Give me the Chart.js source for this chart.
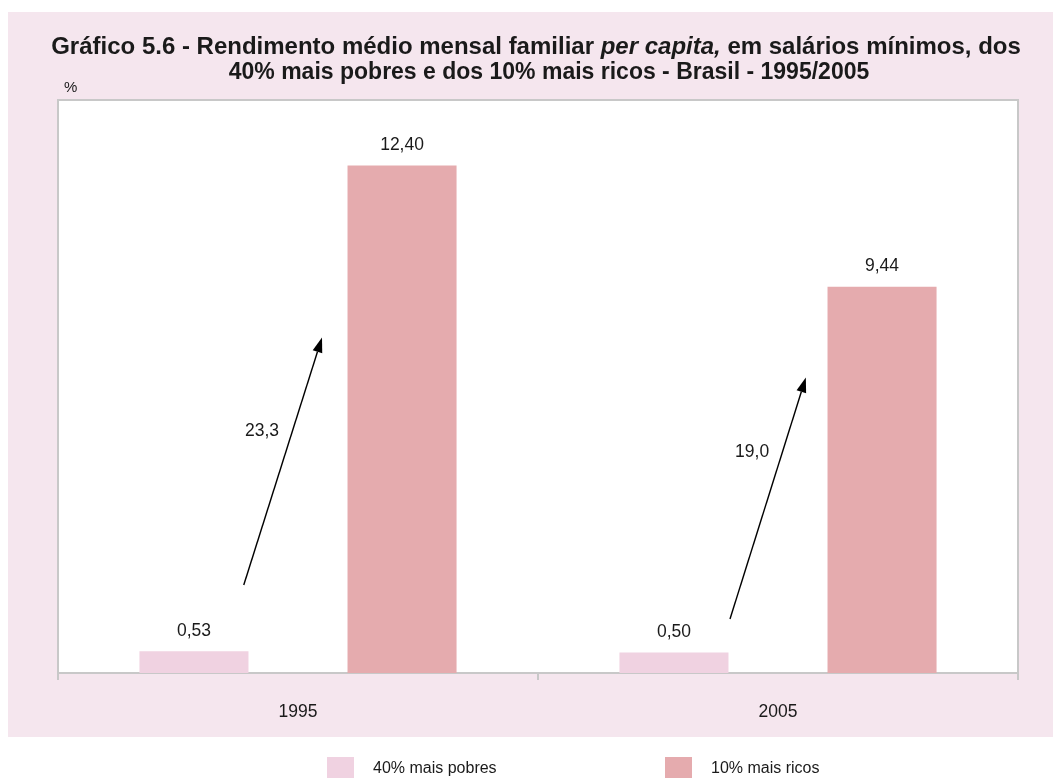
<!DOCTYPE html>
<html>
<head>
<meta charset="utf-8">
<script src="https://cdn.jsdelivr.net/npm/chart.js@4"></script>
<style>
  html, body { margin: 0; padding: 0; background: #fff; }
</style>
</head>
<body>
<canvas id="chart" width="1053" height="778"></canvas>
<script>
// data
const categories = ['1995', '2005'];
const seriesNames = ['40% mais pobres', '10% mais ricos'];
const pobres = [0.53, 0.50];
const ricos = [12.40, 9.44];
const ratios = ['23,3', '19,0'];

// arrows: [category offset, value] for start and end, plus where the ratio text sits
const arrowStart = [[-0.113, 2.15], [-0.100, 1.32]];
const arrowEnd = [[0.050, 8.20], [0.058, 7.22]];
const ratioPos = [[-0.075, 5.90], [-0.054, 5.40]];

const FONT = '"Liberation Sans", Arial, sans-serif';
const TEXT = '#1a1a1a';

const fmt = v => v.toFixed(2).replace('.', ',');

const backdrop = {
    id: 'backdrop',
    beforeDraw(chart) {
        const c = chart.ctx, a = chart.chartArea;
        c.save();
        c.fillStyle = '#ffffff';
        c.fillRect(0, 0, chart.width, chart.height);
        c.fillStyle = '#f5e6ee';
        c.fillRect(8, 12, chart.width - 8, 725);
        c.fillStyle = '#ffffff';
        c.fillRect(a.left, a.top, a.right - a.left, a.bottom - a.top);
        c.strokeStyle = '#c8c8c8';
        c.lineWidth = 2;
        c.beginPath();
        c.moveTo(a.left, a.bottom);
        c.lineTo(a.left, a.top);
        c.lineTo(a.right, a.top);
        c.lineTo(a.right, a.bottom);
        c.stroke();

        // title
        c.fillStyle = TEXT;
        c.textBaseline = 'middle';
        const cx = 536;
        const parts = [
            ['bold', 'Gráfico 5.6 - Rendimento médio mensal familiar '],
            ['italic bold', 'per capita,'],
            ['bold', ' em salários mínimos, dos']
        ];
        let total = 0;
        parts.forEach(p => { c.font = p[0] + ' 24px ' + FONT; total += c.measureText(p[1]).width; });
        let x = cx - total / 2;
        c.textAlign = 'left';
        parts.forEach(p => {
            c.font = p[0] + ' 24px ' + FONT;
            c.fillText(p[1], x, 47);
            x += c.measureText(p[1]).width;
        });
        c.font = 'bold 23px ' + FONT;
        c.textAlign = 'center';
        c.fillText('40% mais pobres e dos 10% mais ricos - Brasil - 1995/2005', 549, 73);

        c.font = '15px ' + FONT;
        c.textAlign = 'left';
        c.fillText('%', 64, 88);
        c.restore();
    },
    afterDraw(chart) {
        const c = chart.ctx;
        c.save();
        c.textBaseline = 'middle';
        c.textAlign = 'left';
        c.font = '16px ' + FONT;
        const boxX = [327, 665];
        chart.data.datasets.forEach((ds, i) => {
            c.fillStyle = ds.backgroundColor;
            c.fillRect(boxX[i], 757, 27, 22);
            c.fillStyle = TEXT;
            c.fillText(ds.label, boxX[i] + 46, 769);
        });
        c.restore();
    }
};

const annotations = {
    id: 'annotations',
    afterDatasetsDraw(chart) {
        const c = chart.ctx;
        const xs = chart.scales.x, ys = chart.scales.y;
        const step = (xs.right - xs.left) / categories.length;
        c.save();
        c.fillStyle = TEXT;
        c.font = '17.5px ' + FONT;
        c.textAlign = 'center';
        c.textBaseline = 'middle';
        chart.data.datasets.forEach((ds, i) => {
            chart.getDatasetMeta(i).data.forEach((bar, j) => {
                c.fillText(fmt(ds.data[j]), bar.x, bar.y - 20);
            });
        });

        categories.forEach((cat, j) => {
            const x0 = xs.getPixelForValue(j) + arrowStart[j][0] * step;
            const y0 = ys.getPixelForValue(arrowStart[j][1]);
            const x1 = xs.getPixelForValue(j) + arrowEnd[j][0] * step;
            const y1 = ys.getPixelForValue(arrowEnd[j][1]);
            const ang = Math.atan2(y1 - y0, x1 - x0);
            const len = 15, half = 5;
            const bx = x1 - len * Math.cos(ang), by = y1 - len * Math.sin(ang);
            c.strokeStyle = '#000';
            c.lineWidth = 1.4;
            c.beginPath();
            c.moveTo(x0, y0);
            c.lineTo(bx, by);
            c.stroke();
            c.fillStyle = '#000';
            c.beginPath();
            c.moveTo(x1, y1);
            c.lineTo(bx + half * Math.sin(ang), by - half * Math.cos(ang));
            c.lineTo(bx - half * Math.sin(ang), by + half * Math.cos(ang));
            c.closePath();
            c.fill();

            c.fillStyle = TEXT;
            c.fillText(ratios[j],
                xs.getPixelForValue(j) + ratioPos[j][0] * step,
                ys.getPixelForValue(ratioPos[j][1]));
        });
        c.restore();
    }
};

const ctx = document.getElementById('chart').getContext('2d');
new Chart(ctx, {
    type: 'bar',
    data: {
        labels: categories,
        datasets: [
            { label: seriesNames[0], data: pobres, backgroundColor: '#f0d2e1' },
            { label: seriesNames[1], data: ricos, backgroundColor: '#e5abae' }
        ]
    },
    options: {
        responsive: false,
        animation: false,
        layout: { padding: { left: 58, right: 35, top: 100, bottom: 33 } },
        datasets: { bar: { categoryPercentage: 0.867, barPercentage: 0.524 } },
        plugins: {
            legend: { display: false },
            tooltip: { enabled: false }
        },
        scales: {
            x: {
                grid: { drawOnChartArea: false, tickLength: 7, color: '#c8c8c8', lineWidth: 2 },
                border: { color: '#c8c8c8', width: 2 },
                ticks: { padding: 22, color: TEXT, font: { size: 17.5, family: FONT } }
            },
            y: { display: false, min: 0, max: 14 }
        }
    },
    plugins: [backdrop, annotations]
});
</script>
</body>
</html>
